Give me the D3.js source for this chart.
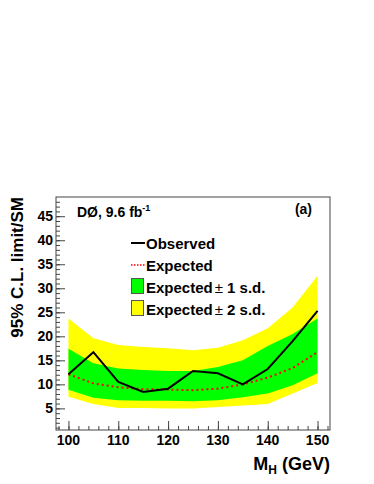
<!DOCTYPE html>
<html>
<head>
<meta charset="utf-8">
<script src="https://cdn.jsdelivr.net/npm/d3@7.9.0/dist/d3.min.js"></script>
<style>
  body { margin: 0; background: #fff; }
  svg { display: block; }
  text { font-family: "Liberation Sans", Arial, sans-serif; font-weight: bold; fill: #000; }
</style>
</head>
<body>
<svg id="chart" width="374" height="484"></svg>
<script>
const masses = [100, 105, 110, 115, 120, 125, 130, 135, 140, 145, 150];
const observed = [12.1, 16.7, 10.5, 8.4, 9.1, 12.8, 12.3, 10.0, 13.2, 19.0, 25.3];
const expected = [12.1, 10.2, 9.4, 9.0, 8.9, 8.8, 9.1, 10.0, 11.4, 13.4, 16.7];
const plus1 = [17.4, 14.4, 13.3, 13.0, 12.8, 12.8, 13.6, 15.0, 18.0, 20.5, 23.7];
const minus1 = [8.9, 7.2, 6.7, 6.6, 6.6, 6.5, 6.7, 7.3, 8.1, 9.8, 12.3];
const plus2 = [23.7, 19.6, 18.2, 17.8, 17.5, 17.1, 17.6, 19.2, 21.7, 26.0, 32.6];
const minus2 = [7.4, 5.9, 5.1, 5.1, 5.0, 5.0, 5.3, 5.6, 5.9, 8.1, 10.3];
const xTicks = [100, 110, 120, 130, 140, 150];
const yTicks = [5, 10, 15, 20, 25, 30, 35, 40, 45];

const svg = d3.select('#chart');
const fLeft = 56, fRight = 330, fTop = 197, fBottom = 430;

const x = d3.scaleLinear().domain([97.5, 152.5]).range([fLeft, fRight]);
const y = d3.scaleLinear().domain([0.5, 49]).range([fBottom, fTop]);

const band = (hi, lo) => d3.area()
  .x((d, i) => x(masses[i]))
  .y0((d, i) => y(lo[i]))
  .y1((d, i) => y(hi[i]));

svg.append('path').datum(masses).attr('d', band(plus2, minus2)).attr('fill', '#ffff00');
svg.append('path').datum(masses).attr('d', band(plus1, minus1)).attr('fill', '#00ff00');

const line = (vals) => d3.line().x((d, i) => x(masses[i])).y((d, i) => y(vals[i]));

svg.append('path').datum(masses).attr('d', line(expected))
  .attr('fill', 'none').attr('stroke', '#ff0000').attr('stroke-width', 2)
  .attr('stroke-dasharray', '2,3');
svg.append('path').datum(masses).attr('d', line(observed))
  .attr('fill', 'none').attr('stroke', '#000').attr('stroke-width', 2);

// frame
svg.append('rect').attr('x', fLeft).attr('y', fTop)
  .attr('width', fRight - fLeft).attr('height', fBottom - fTop)
  .attr('fill', 'none').attr('stroke', '#444').attr('stroke-width', 1);

// x axis (ticks inward)
const xAxis = svg.append('g').attr('transform', `translate(0,${fBottom})`);
xAxis.call(d3.axisTop(x).tickValues(d3.range(98, 153, 2)).tickSize(4).tickFormat(''));
xAxis.call(g => g.append('g').call(d3.axisTop(x).tickValues(xTicks).tickSize(9).tickFormat('')));
xAxis.selectAll('.domain').remove();
xAxis.selectAll('line').attr('stroke', '#444');
xTicks.forEach(v => {
  svg.append('text').attr('x', x(v)).attr('y', fBottom + 15)
    .attr('text-anchor', 'middle').attr('font-size', 14).text(v);
});

// y axis (ticks inward)
const yAxis = svg.append('g').attr('transform', `translate(${fLeft},0)`);
yAxis.call(d3.axisRight(y).tickValues(d3.range(1, 49, 1)).tickSize(4).tickFormat(''));
yAxis.call(g => g.append('g').call(d3.axisRight(y).tickValues(yTicks).tickSize(9).tickFormat('')));
yAxis.selectAll('.domain').remove();
yAxis.selectAll('line').attr('stroke', '#444');
yTicks.forEach(v => {
  svg.append('text').attr('x', fLeft - 3).attr('y', y(v) + 5)
    .attr('text-anchor', 'end').attr('font-size', 14).text(v);
});

// axis titles
svg.append('text').attr('transform', `translate(22.5,${fTop}) rotate(-90)`)
  .attr('text-anchor', 'end').attr('font-size', 17).text('95% C.L. limit/SM');

const xt = svg.append('text').attr('x', fRight).attr('y', 470)
  .attr('text-anchor', 'end').attr('font-size', 18);
xt.append('tspan').text('M');
xt.append('tspan').attr('font-size', 12).attr('dy', 4).text('H');
xt.append('tspan').attr('dy', -4).text(' (GeV)');

// labels
const dz = svg.append('text').attr('x', 77).attr('y', 217).attr('font-size', 14);
dz.append('tspan').text('DØ, 9.6 fb');
dz.append('tspan').attr('font-size', 9).attr('dy', -6).text('-1');
svg.append('text').attr('x', 312).attr('y', 214).attr('text-anchor', 'end')
  .attr('font-size', 14).text('(a)');

// legend
const legendItems = [
  { label: 'Observed', kind: 'line', color: '#000' },
  { label: 'Expected', kind: 'dash', color: '#ff0000' },
  { label: 'Expected', pm: ' 1 s.d.', kind: 'box', color: '#00ff00' },
  { label: 'Expected', pm: ' 2 s.d.', kind: 'box', color: '#ffff00' }
];
legendItems.forEach((d, i) => {
  const base = 249 + i * 22;
  if (d.kind === 'box') {
    svg.append('rect').attr('x', 131.5).attr('y', base - 14.5)
      .attr('width', 12).attr('height', 15)
      .attr('fill', d.color).attr('stroke', '#555').attr('stroke-width', 1);
  } else {
    svg.append('line').attr('x1', 131).attr('x2', 145)
      .attr('y1', base - 6).attr('y2', base - 6)
      .attr('stroke', d.color).attr('stroke-width', d.kind === 'line' ? 2 : 1.5)
      .attr('stroke-dasharray', d.kind === 'dash' ? '1.5,1.5' : null);
  }
  const t = svg.append('text').attr('x', 146).attr('y', base).attr('font-size', 15);
  t.append('tspan').text(d.label);
  if (d.pm) {
    t.append('tspan').attr('font-weight', 'normal').attr('dx', 2).text('±');
    t.append('tspan').text(d.pm);
  }
});
</script>
</body>
</html>
